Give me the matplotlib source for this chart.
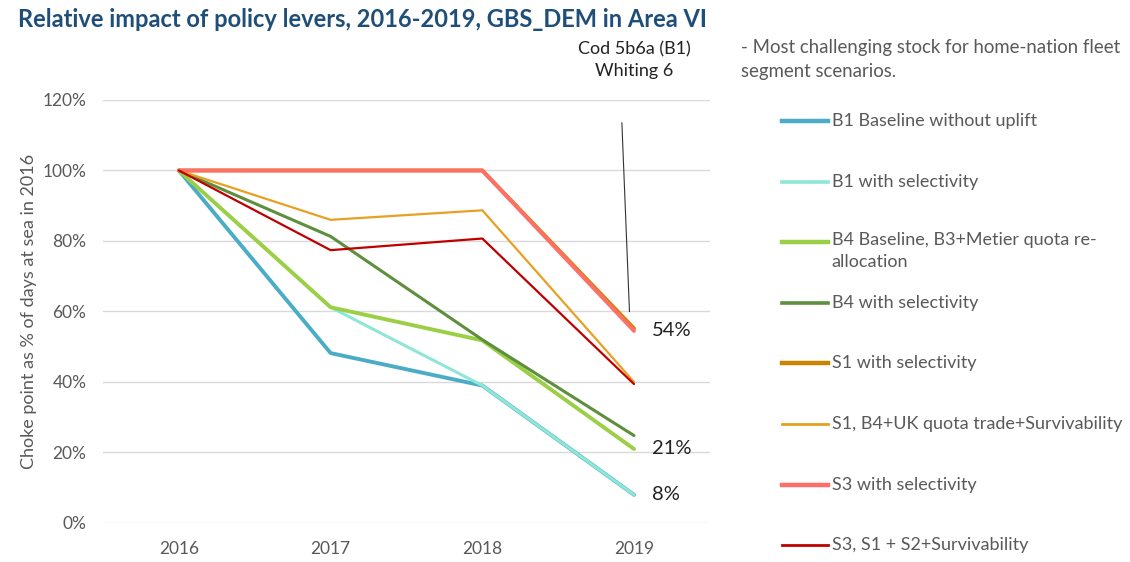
import numpy as np
import matplotlib.pyplot as plt
from matplotlib.lines import Line2D

plt.rcParams['font.family'] = ['Lato', 'DejaVu Sans']

years = ['2016', '2017', '2018', '2019']

b1_base = [100, 48.2, 39.0, 8.0]
b1_sel = [100, 61.2, 39.0, 8.0]
b4_base = [100, 61.2, 51.8, 21.0]
b4_sel = [100, 81.3, 52.0, 24.8]
s1_sel = [100, 100, 100, 55.2]
s1_trade = [100, 86.0, 88.7, 40.0]
s3_sel = [100, 100, 100, 54.5]
s3_surv = [100, 77.4, 80.7, 39.4]

names = ['B1 Baseline without uplift', 'B1 with selectivity',
         'B4 Baseline, B3+Metier quota re-\nallocation', 'B4 with selectivity',
         'S1 with selectivity', 'S1, B4+UK quota trade+Survivability',
         'S3 with selectivity', 'S3, S1 + S2+Survivability']
series = [b1_base, b1_sel, b4_base, b4_sel, s1_sel, s1_trade, s3_sel, s3_surv]
colors = ['#4BACC6', '#8EE6D6', '#9BCF45', '#5E8F3C',
          '#CC8400', '#E8A022', '#FF6F6A', '#C00000']
widths = [2.8, 2.2, 2.8, 2.2, 2.8, 1.6, 2.8, 1.6]

end_labels = ['54%', '21%', '8%']
end_values = [54.5, 21.0, 8.0]

fig = plt.figure(figsize=(11.3, 5.62), dpi=100)
ax = fig.add_axes([0.0912, 0.0694, 0.537, 0.7527])

x = np.arange(len(years))
for vals, c, w in zip(series, colors, widths):
    ax.plot(x, vals, color=c, lw=w, solid_capstyle='round', zorder=3)

ax.set_xlim(-0.5, 3.5)
ax.set_ylim(0, 120)
ax.set_yticks(np.arange(0, 121, 20))
ax.set_yticklabels([f'{v}%' for v in range(0, 121, 20)])
ax.set_xticks(x)
ax.set_xticklabels(years)
ax.grid(axis='y', color='#D9D9D9', lw=1)
ax.set_axisbelow(True)
for s in ax.spines.values():
    s.set_visible(False)
ax.tick_params(length=0, labelsize=12.5, colors='#595959')
ax.tick_params(axis='x', pad=13)
ax.tick_params(axis='y', pad=12)
ax.set_ylabel('Choke point as % of days at sea in 2016', fontsize=13, color='#595959', labelpad=4)

for lab, v in zip(end_labels, end_values):
    ax.text(3.12, v, lab, fontsize=14.5, color='#222222', va='center', ha='left')

# pointer line from the stock note to the 2019 values
ax.plot([2.92, 2.97], [113.5, 60], color='#333333', lw=0.8, zorder=4)

fig.text(0.016, 0.965, 'Relative impact of policy levers, 2016-2019, GBS_DEM in Area VI',
         fontsize=17, fontweight='bold', color='#1F4E79', va='center')
fig.text(0.561, 0.913, 'Cod 5b6a (B1)', fontsize=13, color='#222222', ha='center', va='center')
fig.text(0.561, 0.873, 'Whiting 6', fontsize=13, color='#222222', ha='center', va='center')
fig.text(0.656, 0.916, '- Most challenging stock for home-nation fleet', fontsize=13.4,
         color='#595959', va='center')
fig.text(0.656, 0.872, 'segment scenarios.', fontsize=13.4, color='#595959', va='center')

# legend drawn by hand to keep even spacing
leg_y = [121, 182, 242, 303, 363, 424, 485, 545]
for n, c, w, yy in zip(names, colors, widths, leg_y):
    fy = 1 - yy / 562
    fig.add_artist(Line2D([0.692, 0.733], [fy, fy], color=c, lw=w + 0.4, transform=fig.transFigure))
    if '\n' in n:
        fig.text(0.736, fy + 0.018, n, fontsize=13, color='#595959', va='top',
                 linespacing=1.45, transform=fig.transFigure)
    else:
        fig.text(0.736, fy, n, fontsize=13, color='#595959', va='center',
                 transform=fig.transFigure)

fig.savefig('out.png', dpi=100)
